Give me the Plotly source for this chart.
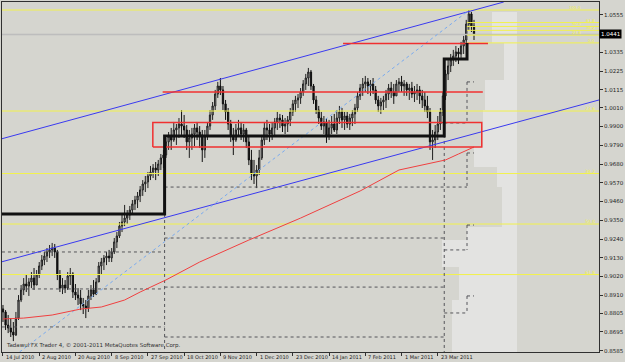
import plotly.graph_objects as go

# ---------------- data ----------------
date_labels = ["14 Jul 2010", "2 Aug 2010", "20 Aug 2010", "8 Sep 2010", "27 Sep 2010",
               "18 Oct 2010", "9 Nov 2010", "1 Dec 2010", "23 Dec 2010", "14 Jan 2011",
               "7 Feb 2011", "1 Mar 2011", "23 Mar 2011"]
date_bar_idx = [0, 14, 28, 42, 56, 70, 84, 98, 112, 126, 140, 154, 168]

highs = [0.8853,0.8823,0.8794,0.8776,0.8753,0.8812,0.8911,0.8970,0.9011,0.9029,
0.9011,0.9046,0.9070,0.9058,0.9105,0.9146,0.9164,0.9187,0.9205,0.9217,
0.9211,0.9176,0.9058,0.9011,0.8999,0.9046,0.9070,0.9046,0.8976,0.8952,
0.8941,0.8894,0.8882,0.8941,0.8970,0.8999,0.9011,0.9105,0.9129,0.9146,
0.9164,0.9176,0.9187,0.9246,0.9281,0.9340,0.9387,0.9440,0.9410,0.9434,
0.9469,0.9493,0.9516,0.9551,0.9586,0.9610,0.9633,0.9669,0.9680,0.9692,
0.9704,0.9739,0.9763,0.9833,0.9868,0.9892,0.9927,0.9915,0.9950,0.9997,
0.9968,0.9909,0.9880,0.9892,0.9915,0.9927,0.9903,0.9880,0.9880,0.9927,
0.9997,1.0044,1.0115,1.0162,1.0185,1.0138,1.0056,1.0009,0.9939,0.9892,
0.9915,0.9939,0.9927,0.9915,0.9892,0.9845,0.9763,0.9704,0.9674,0.9763,
0.9851,0.9927,0.9939,0.9915,0.9927,0.9950,0.9986,0.9974,0.9968,0.9950,
0.9962,1.0009,1.0056,1.0080,1.0091,1.0126,1.0173,1.0209,1.0244,1.0232,
1.0150,1.0080,1.0021,0.9986,0.9962,0.9950,0.9939,0.9962,0.9974,0.9997,
1.0021,1.0009,0.9986,0.9986,0.9974,0.9997,1.0033,1.0103,1.0150,1.0185,
1.0197,1.0185,1.0173,1.0185,1.0138,1.0080,1.0068,1.0080,1.0115,1.0150,
1.0162,1.0150,1.0173,1.0185,1.0197,1.0173,1.0162,1.0150,1.0162,1.0138,
1.0150,1.0138,1.0115,1.0103,1.0080,1.0009,0.9880,0.9909,0.9962,1.0009,
1.0103,1.0232,1.0291,1.0326,1.0350,1.0373,1.0361,1.0397,1.0432,1.0526,
1.0584,1.0573,1.0526]

lows = [0.8753,0.8706,0.8688,0.8665,0.8641,0.8671,0.8765,0.8870,0.8911,0.8929,
0.8906,0.8952,0.8941,0.8970,0.9011,0.9058,0.9087,0.9105,0.9129,0.9140,
0.9129,0.8999,0.8929,0.8917,0.8923,0.8941,0.8970,0.8894,0.8882,0.8853,
0.8823,0.8800,0.8776,0.8812,0.8882,0.8900,0.8911,0.8988,0.9029,0.9058,
0.9087,0.9105,0.9105,0.9152,0.9187,0.9246,0.9281,0.9316,0.9328,0.9352,
0.9387,0.9410,0.9422,0.9457,0.9493,0.9516,0.9539,0.9586,0.9598,0.9586,
0.9610,0.9645,0.9657,0.9716,0.9763,0.9763,0.9810,0.9792,0.9833,0.9851,
0.9833,0.9763,0.9716,0.9763,0.9786,0.9821,0.9774,0.9692,0.9716,0.9821,
0.9880,0.9939,0.9997,1.0068,1.0085,0.9997,0.9939,0.9880,0.9810,0.9733,
0.9810,0.9845,0.9821,0.9810,0.9774,0.9674,0.9586,0.9563,0.9539,0.9616,
0.9704,0.9792,0.9821,0.9810,0.9821,0.9845,0.9880,0.9892,0.9868,0.9856,
0.9868,0.9903,0.9962,0.9986,1.0009,1.0033,1.0080,1.0115,1.0138,1.0115,
1.0033,0.9974,0.9915,0.9880,0.9856,0.9804,0.9821,0.9856,0.9868,0.9856,
0.9915,0.9892,0.9880,0.9892,0.9880,0.9903,0.9915,0.9986,1.0056,1.0080,
1.0103,1.0091,1.0080,1.0091,1.0033,0.9986,0.9974,0.9997,1.0009,1.0056,
1.0068,1.0033,1.0080,1.0103,1.0103,1.0080,1.0080,1.0056,1.0068,1.0044,
1.0056,1.0033,1.0009,0.9986,0.9950,0.9763,0.9704,0.9774,0.9821,0.9880,
0.9962,1.0056,1.0173,1.0220,1.0256,1.0279,1.0267,1.0303,1.0326,1.0385,
1.0467,1.0455,1.0408]

closes = [0.8812,0.8735,0.8718,0.8694,0.8677,0.8776,0.8882,0.8941,0.8976,0.8964,
0.8988,0.9011,0.8970,0.9029,0.9082,0.9117,0.9140,0.9164,0.9176,0.9187,
0.9164,0.9029,0.8952,0.8970,0.8952,0.9023,0.9035,0.8929,0.8911,0.8894,
0.8859,0.8847,0.8835,0.8906,0.8941,0.8917,0.8988,0.9082,0.9105,0.9129,
0.9140,0.9129,0.9164,0.9223,0.9258,0.9316,0.9340,0.9363,0.9381,0.9410,
0.9446,0.9469,0.9493,0.9528,0.9563,0.9575,0.9610,0.9633,0.9657,0.9645,
0.9680,0.9716,0.9733,0.9810,0.9845,0.9821,0.9880,0.9892,0.9915,0.9903,
0.9880,0.9810,0.9833,0.9856,0.9892,0.9868,0.9851,0.9763,0.9845,0.9903,
0.9968,1.0021,1.0091,1.0138,1.0115,1.0033,0.9986,0.9915,0.9845,0.9821,
0.9880,0.9892,0.9856,0.9880,0.9810,0.9704,0.9622,0.9610,0.9645,0.9716,
0.9821,0.9892,0.9880,0.9856,0.9892,0.9927,0.9950,0.9939,0.9903,0.9915,
0.9939,0.9986,1.0033,1.0056,1.0068,1.0103,1.0150,1.0185,1.0220,1.0138,
1.0056,0.9997,0.9950,0.9903,0.9927,0.9845,0.9892,0.9915,0.9880,0.9950,
0.9986,0.9939,0.9962,0.9915,0.9950,0.9974,1.0009,1.0080,1.0126,1.0150,
1.0162,1.0138,1.0150,1.0115,1.0056,1.0021,1.0044,1.0056,1.0091,1.0126,
1.0103,1.0080,1.0150,1.0162,1.0138,1.0150,1.0115,1.0126,1.0091,1.0103,
1.0115,1.0080,1.0056,1.0021,0.9986,0.9810,0.9821,0.9868,0.9915,0.9986,
1.0080,1.0209,1.0256,1.0291,1.0314,1.0338,1.0326,1.0373,1.0408,1.0502,
1.0561,1.0490,1.0441]
first_open = 0.8830

# moving average (red) sampled at bar indices
ma_idx = [0, 8, 19, 30, 38, 47, 53, 63, 76, 95, 115, 126, 138, 153, 163, 171, 176, 182]
ma_val = [0.8771, 0.8776, 0.8794, 0.8829, 0.8841, 0.8882, 0.8929, 0.9000, 0.9105, 0.9234,
          0.9363, 0.9440, 0.9522, 0.9645, 0.9680, 0.9704, 0.9739, 0.9780]

# channel (blue) trend lines: (idx0, price0, idx1, price1)
chan_upper = (-0.77, 0.9827, 193.5, 1.0631)
chan_lower = (-0.77, 0.9105, 230.3, 1.0056)
dotted_trend = (6.4, 0.8577, 179.3, 1.0573)

# black step line (support stairs)
step_x = [-0.4, 62.45, 62.45, 170.5, 170.5, 179.3, 179.3]
step_y = [0.9387, 0.9387, 0.9845, 0.9845, 1.0297, 1.0297, 1.0391]

# red horizontal levels: (idx0, idx1, price)
red_levels = [(131.4, 187.4, 1.0388), (61.7, 185.4, 1.0103)]
red_box = (57.9, 185.0, 0.9780, 0.9924)

# dashed grey staircase segments: (idx0, idx1, price0, price1)
dash_segments = [
    (-0.4, 62.45, 0.9164, 0.9164), (-0.4, 62.45, 0.8947, 0.8947), (-0.4, 62.45, 0.8724, 0.8724),
    (62.45, 62.45, 0.9387, 0.8577),
    (62.45, 179.3, 0.9545, 0.9545), (62.45, 170.5, 0.9246, 0.9246),
    (62.45, 170.5, 0.8958, 0.8958), (62.45, 170.5, 0.8665, 0.8665),
    (170.5, 179.3, 0.9921, 0.9921), (170.5, 179.3, 0.9176, 0.9176), (170.5, 179.3, 0.8806, 0.8806),
    (170.5, 170.5, 0.9921, 0.8577),
    (179.3, 179.3, 1.0162, 0.9921), (179.3, 179.3, 0.9745, 0.9545),
    (179.3, 179.3, 0.9322, 0.9176), (179.3, 179.3, 0.8906, 0.8806),
    (179.3, 182.0, 1.0162, 1.0162), (179.3, 182.0, 0.9745, 0.9745),
    (179.3, 182.0, 0.9322, 0.9322), (179.3, 182.0, 0.8906, 0.8906),
]

# fibonacci
fib_small_low, fib_small_high, fib_small_start = 1.0391, 1.0584, 179.3
fib_small_ratios = [0.0, 23.6, 38.2, 50.0, 61.8, 100.0]
fib_big_top, fib_big_bottom = 1.0584, 0.8072
fib_big_ratios = [23.6, 38.2, 50.0, 61.8]

# volume profile (right-anchored)
profile_anchor = 198.5
profile_top = [1.0573, 1.0391, 1.0174, 0.9997, 0.9780, 0.9663, 0.9545, 0.9311, 0.9235, 0.9076, 0.8882]
profile_bot = [1.0391, 1.0174, 0.9997, 0.9780, 0.9663, 0.9545, 0.9311, 0.9235, 0.9076, 0.8882, 0.8577]
profile_len = [9.6, 5.0, 12.3, 13.0, 16.5, 7.7, 5.7, 19.2, 28.7, 22.2, 24.9]

y_tickvals = [1.0555, 1.0335, 1.0225, 1.0115, 1.0010, 0.9900, 0.9790, 0.9680, 0.9570, 0.9460,
              0.9350, 0.9240, 0.9130, 0.9020, 0.8910, 0.8805, 0.8695, 0.8585]
last_price = 1.0441
x_range = [-0.38, 230.3]
y_range = [0.8577, 1.0631]

# ---------------- figure ----------------
BG = "#d5d5cf"
YEL = "#f2f24c"
FONT = "DejaVu Sans"
fig = go.Figure()

# volume profile
fig.add_trace(go.Bar(
    orientation="h",
    y=[(t + b) / 2 for t, b in zip(profile_top, profile_bot)],
    width=[t - b for t, b in zip(profile_top, profile_bot)],
    x=[-v for v in profile_len], base=profile_anchor,
    marker=dict(color="#e3e3e1", line=dict(width=0)), hoverinfo="skip"))

def line(x, y, color, width=1, dash="solid"):
    fig.add_trace(go.Scatter(x=x, y=y, mode="lines", hoverinfo="skip",
                             line=dict(color=color, width=width, dash=dash)))

# bid line
line([x_range[0], x_range[1]], [last_price, last_price], "#bdbdbd", 1.5)

# fibonacci lines
for r in fib_big_ratios:
    p = fib_big_top - r / 100 * (fib_big_top - fib_big_bottom)
    line([x_range[0], x_range[1]], [p, p], YEL, 1)
for r in fib_small_ratios:
    p = fib_small_low + r / 100 * (fib_small_high - fib_small_low)
    x0 = x_range[0] if r == 100.0 else fib_small_start
    line([x0, x_range[1]], [p, p], YEL, 1)

# dashed staircase
for (x0, x1, y0, y1) in dash_segments:
    line([x0, x1], [y0, y1], "#55555a", 1, "dot")

# channel + trend
line([chan_upper[0], chan_upper[2]], [chan_upper[1], chan_upper[3]], "#3a3af0", 1)
line([chan_lower[0], chan_lower[2]], [chan_lower[1], chan_lower[3]], "#3a3af0", 1)
line([dotted_trend[0], dotted_trend[2]], [dotted_trend[1], dotted_trend[3]], "#78aaf0", 1, "dot")

# moving average
line(ma_idx, ma_val, "#f04040", 1)

# red levels and box
for (x0, x1, p) in red_levels:
    line([x0, x1], [p, p], "#f03030", 1.5)
bx0, bx1, by0, by1 = red_box
line([bx0, bx1, bx1, bx0, bx0], [by0, by0, by1, by1, by0], "#f03030", 1.5)

# candles
idx = list(range(len(closes)))
opens = [first_open] + closes[:-1]
fig.add_trace(go.Candlestick(
    x=idx, open=opens, high=highs, low=lows, close=closes,
    increasing=dict(line=dict(color="#202020", width=1), fillcolor="#a0a0a0"),
    decreasing=dict(line=dict(color="#101010", width=1), fillcolor="#101010"),
    whiskerwidth=0, hoverinfo="skip"))

# black step line
line(step_x, step_y, "#111111", 3)

annotations = []
for i, lab in zip(date_bar_idx, date_labels):
    annotations.append(dict(x=i, xref="x", y=-0.015, yref="paper", text=lab, showarrow=False,
                            xanchor="left", yanchor="middle", xshift=1,
                            font=dict(family=FONT, size=5, color="#222222")))
for k, r in enumerate(fib_small_ratios):
    p = fib_small_low + r / 100 * (fib_small_high - fib_small_low)
    annotations.append(dict(x=1, xref="paper", y=p, yref="y", text=f"{r:.1f}", showarrow=False,
                            xanchor="right", yanchor="bottom",
                            xshift=-2 if k % 2 == 0 else -16, yshift=-2,
                            font=dict(family=FONT, size=4, color=YEL)))
for r in fib_big_ratios:
    p = fib_big_top - r / 100 * (fib_big_top - fib_big_bottom)
    annotations.append(dict(x=1, xref="paper", y=p, yref="y", text=f"{r:.1f}", showarrow=False,
                            xanchor="right", yanchor="bottom", xshift=-2, yshift=-2,
                            font=dict(family=FONT, size=4.5, color=YEL)))
annotations.append(dict(x=1, xref="paper", y=last_price, yref="y", text=f"{last_price:.4f}",
                        showarrow=False, xanchor="left", yanchor="middle", xshift=0,
                        bgcolor="#000000", borderpad=1,
                        font=dict(family=FONT, size=5.5, color="#ffffff")))
annotations.append(dict(x=0.004, xref="paper", y=0.02, yref="paper",
                        text="Tadawul FX Trader 4, © 2001-2011 MetaQuotes Software Corp.",
                        showarrow=False, xanchor="left", yanchor="middle",
                        font=dict(family=FONT, size=5.5, color="#303030")))

fig.update_layout(
    width=625, height=362, margin=dict(l=1, r=22, t=2, b=10),
    paper_bgcolor=BG, plot_bgcolor=BG, showlegend=False, bargap=0,
    annotations=annotations,
    xaxis=dict(range=x_range, showgrid=False, zeroline=False, showline=True, mirror=True,
               linecolor="#303030", linewidth=1, ticks="outside", ticklen=3, tickcolor="#303030",
               tickvals=date_bar_idx, showticklabels=False, rangeslider=dict(visible=False)),
    yaxis=dict(range=y_range, side="right", showgrid=False, zeroline=False, showline=True,
               mirror=True, linecolor="#303030", linewidth=1, ticks="outside", ticklen=3,
               tickcolor="#303030", tickvals=y_tickvals,
               ticktext=[f"{v:.4f}" for v in y_tickvals],
               tickfont=dict(family=FONT, size=5.5, color="#222222")),
)

fig.write_html("out.html")
